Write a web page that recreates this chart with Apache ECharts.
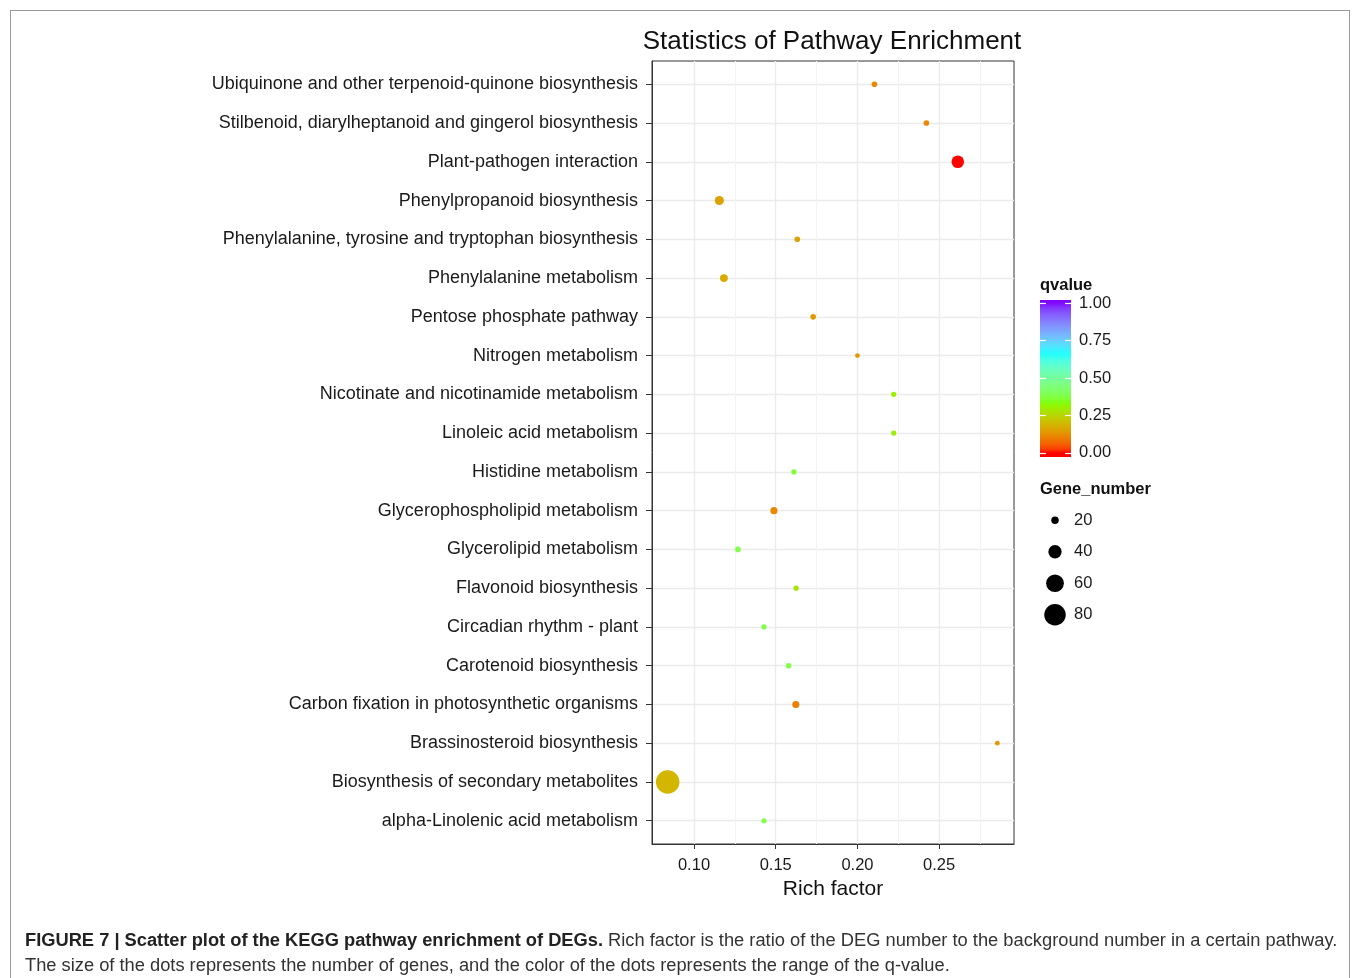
<!DOCTYPE html>
<html><head><meta charset="utf-8">
<script src="https://cdn.jsdelivr.net/npm/echarts@6/dist/echarts.min.js"></script>
<style>
html,body{margin:0;padding:0;background:#fff;}
#chart{position:absolute;left:0;top:0;width:1359px;height:978px;}
#frame{position:absolute;left:10px;top:10px;width:1338px;height:990px;border:1px solid #9a9a9a;pointer-events:none;}
#caption{position:absolute;left:25px;top:927px;font-family:'Liberation Sans',Arial,sans-serif;font-size:18.3px;line-height:25px;color:#333;white-space:nowrap;}
#caption b{color:#222;}
</style></head><body>
<div id="chart"></div><div id="frame"></div>
<div id="caption"><b>FIGURE 7 | Scatter plot of the KEGG pathway enrichment of DEGs.</b> Rich factor is the ratio of the DEG number to the background number in a certain pathway.<br>The size of the dots represents the number of genes, and the color of the dots represents the range of the q-value.</div>
<script>
// ---- data (bottom -> top) ----
const pathways = [
  'alpha-Linolenic acid metabolism',
  'Biosynthesis of secondary metabolites',
  'Brassinosteroid biosynthesis',
  'Carbon fixation in photosynthetic organisms',
  'Carotenoid biosynthesis',
  'Circadian rhythm - plant',
  'Flavonoid biosynthesis',
  'Glycerolipid metabolism',
  'Glycerophospholipid metabolism',
  'Histidine metabolism',
  'Linoleic acid metabolism',
  'Nicotinate and nicotinamide metabolism',
  'Nitrogen metabolism',
  'Pentose phosphate pathway',
  'Phenylalanine metabolism',
  'Phenylalanine, tyrosine and tryptophan biosynthesis',
  'Phenylpropanoid biosynthesis',
  'Plant-pathogen interaction',
  'Stilbenoid, diarylheptanoid and gingerol biosynthesis',
  'Ubiquinone and other terpenoid-quinone biosynthesis'
];
const richFactor = [0.1428, 0.0839, 0.2856, 0.1623, 0.1579, 0.1428, 0.1625, 0.1269, 0.1489, 0.1611,
                    0.2222, 0.2222, 0.2000, 0.1729, 0.1183, 0.1632, 0.1155, 0.2614, 0.2422, 0.2104];
const qvalue = [0.38, 0.19, 0.14, 0.10, 0.38, 0.38, 0.28, 0.38, 0.11, 0.36,
                0.30, 0.30, 0.14, 0.14, 0.17, 0.16, 0.16, 0.001, 0.11, 0.11];
const geneNumber = [14, 92, 13, 19, 15, 14, 14, 15, 19, 14,
                    14, 14, 13, 15, 21, 15, 25, 37, 15, 15];
const xTicks = [0.10, 0.15, 0.20, 0.25];
const xMinorTicks = [0.125, 0.175, 0.225, 0.275];
const qTicks = [0, 0.25, 0.5, 0.75, 1];
const geneLegend = [20, 40, 60, 80];
const rainbowStops = ['#FF0000', '#80FF00', '#00FFFF', '#8000FF'];

// ---- colour helpers (Lab interpolation like ggplot) ----
function hexToRgb(h){ h=h.replace('#',''); return [parseInt(h.slice(0,2),16),parseInt(h.slice(2,4),16),parseInt(h.slice(4,6),16)]; }
function s2l(c){ c/=255; return c<=0.04045? c/12.92 : Math.pow((c+0.055)/1.055,2.4); }
function l2s(c){ const v = c<=0.0031308? 12.92*c : 1.055*Math.pow(Math.max(c,0),1/2.4)-0.055; return Math.round(Math.min(1,Math.max(0,v))*255); }
function rgbToLab(rgb){
  const R=s2l(rgb[0]),G=s2l(rgb[1]),B=s2l(rgb[2]);
  const X=(R*0.4124+G*0.3576+B*0.1805)/0.95047, Y=(R*0.2126+G*0.7152+B*0.0722), Z=(R*0.0193+G*0.1192+B*0.9505)/1.08883;
  const f=t=> t>0.008856? Math.cbrt(t) : 7.787*t+16/116;
  return [116*f(Y)-16, 500*(f(X)-f(Y)), 200*(f(Y)-f(Z))];
}
function labToRgb(lab){
  const fy=(lab[0]+16)/116, fx=fy+lab[1]/500, fz=fy-lab[2]/200;
  const fi=t=> t*t*t>0.008856? t*t*t : (t-16/116)/7.787;
  const X=fi(fx)*0.95047, Y=fi(fy), Z=fi(fz)*1.08883;
  const R= 3.2406*X-1.5372*Y-0.4986*Z, G=-0.9689*X+1.8758*Y+0.0415*Z, B=0.0557*X-0.2040*Y+1.0570*Z;
  return [l2s(R),l2s(G),l2s(B)];
}
const labs = rainbowStops.map(c=>rgbToLab(hexToRgb(c)));
function colorAt(t){
  t = Math.min(1, Math.max(0, t));
  const n = labs.length-1;
  const i = Math.min(n-1, Math.floor(t*n));
  const f = t*n - i;
  const a = labs[i], b = labs[i+1];
  const rgb = labToRgb([a[0]+(b[0]-a[0])*f, a[1]+(b[1]-a[1])*f, a[2]+(b[2]-a[2])*f]);
  return 'rgb('+rgb.join(',')+')';
}
const scaleColors = [];
for (let i=0;i<=60;i++) scaleColors.push(colorAt(i/60));
function sizeOf(g){ return Math.max(2.5, -6.5 + 3.13*Math.sqrt(g)); }

// colorbar geometry
const cbMin = -0.028, cbMax = 1.022;
const gradStops = [];
for (let i=0;i<=40;i++){ const o=i/40; gradStops.push({offset:o, color: colorAt(cbMin + o*(cbMax-cbMin))}); }

const FONT = "'Liberation Sans', Arial, sans-serif";
const chart = echarts.init(document.getElementById('chart'));
chart.setOption({
  animation: false,
  backgroundColor: '#fff',
  textStyle: { fontFamily: FONT },
  title: { text: 'Statistics of Pathway Enrichment', left: 827, top: 24, textAlign: 'center',
           textStyle: { fontSize: 26, fontWeight: 'normal', color: '#111', fontFamily: FONT } },
  grid: [
    { left: 652, top: 61, right: 345, bottom: 134, show: true, borderColor: '#333', borderWidth: 1, backgroundColor: '#fff' },
    { left: 1040, top: 300, width: 31, height: 157 },
    { left: 1040, top: 504.5, width: 30, height: 126 }
  ],
  xAxis: [
    { gridIndex: 0, type: 'value', min: 0.0743, max: 0.2958,
      axisLine: { show: true, onZero: false, lineStyle: { color: '#333' } },
      axisTick: { show: true, length: 5, customValues: xTicks, lineStyle: { color: '#333' } },
      axisLabel: { customValues: xTicks, formatter: v => v.toFixed(2), fontSize: 16.5, color: '#1a1a1a', margin: 13 },
      splitLine: { show: true, lineStyle: { color: '#EBEBEB', width: 1.3 } },
      name: 'Rich factor', nameLocation: 'middle', nameGap: 32,
      nameTextStyle: { fontSize: 21, color: '#111', fontFamily: FONT } },
    { gridIndex: 0, type: 'value', min: 0.0743, max: 0.2958, position: 'bottom',
      axisLine: { show: false, onZero: false }, axisTick: { show: false, customValues: xMinorTicks },
      axisLabel: { show: false, customValues: xMinorTicks },
      splitLine: { show: true, lineStyle: { color: '#F3F3F3', width: 1 } } },
    { gridIndex: 1, type: 'value', show: false, min: 0, max: 1 },
    { gridIndex: 2, type: 'value', show: false, min: 0, max: 1 }
  ],
  yAxis: [
    { gridIndex: 0, type: 'value', min: 0.4, max: 20.6,
      axisLine: { show: true, lineStyle: { color: '#333' } },
      axisTick: { show: true, length: 6, customValues: pathways.map((p,i)=>i+1), lineStyle: { color: '#333' } },
      axisLabel: { customValues: pathways.map((p,i)=>i+1), formatter: v => pathways[Math.round(v)-1] || '',
                   fontSize: 18, color: '#1a1a1a', margin: 14, padding: [0, 0, -4, 0] },
      splitLine: { show: true, lineStyle: { color: '#EBEBEB', width: 1.3 } } },
    { gridIndex: 1, type: 'value', position: 'left', min: cbMin, max: cbMax, z: 10,
      axisLine: { show: false }, splitLine: { show: false },
      axisTick: { show: true, inside: true, length: 6, customValues: qTicks, lineStyle: { color: '#fff', width: 1.2 } },
      axisLabel: { show: false, customValues: qTicks } },
    { gridIndex: 1, type: 'value', position: 'right', min: cbMin, max: cbMax, z: 10,
      axisLine: { show: false }, splitLine: { show: false },
      axisTick: { show: true, inside: true, length: 6, customValues: qTicks, lineStyle: { color: '#fff', width: 1.2 } },
      axisLabel: { show: true, customValues: qTicks, formatter: v => v.toFixed(2), fontSize: 16.5, color: '#1a1a1a', margin: 8 } },
    { gridIndex: 2, type: 'category', inverse: true, position: 'right', data: geneLegend.map(String),
      axisLine: { show: false }, axisTick: { show: false }, splitLine: { show: false },
      axisLabel: { fontSize: 16.5, color: '#1a1a1a', margin: 4 } }
  ],
  visualMap: {
    type: 'continuous', show: false, min: 0, max: 1, dimension: 2, seriesIndex: 0,
    inRange: { color: scaleColors }
  },
  graphic: [
    { type: 'rect', left: 1040, top: 300, z: 1, shape: { width: 31, height: 157 },
      style: { fill: new echarts.graphic.LinearGradient(0, 1, 0, 0, gradStops) } },
    { type: 'text', left: 1040, top: 277, style: { text: 'qvalue', font: 'bold 16.5px ' + FONT, fill: '#111' } },
    { type: 'text', left: 1040, top: 481, style: { text: 'Gene_number', font: 'bold 16.5px ' + FONT, fill: '#111' } }
  ],
  series: [
    { type: 'scatter', xAxisIndex: 0, yAxisIndex: 0,
      data: pathways.map((p,i)=>[richFactor[i], i+1, qvalue[i], geneNumber[i]]),
      symbolSize: d => sizeOf(d[3]), itemStyle: { opacity: 1 } },
    { type: 'scatter', xAxisIndex: 3, yAxisIndex: 3,
      data: geneLegend.map(g=>[0.5, String(g), g]),
      symbolSize: d => sizeOf(d[2]), itemStyle: { color: '#000', opacity: 1 } }
  ]
});
</script>
</body></html>
